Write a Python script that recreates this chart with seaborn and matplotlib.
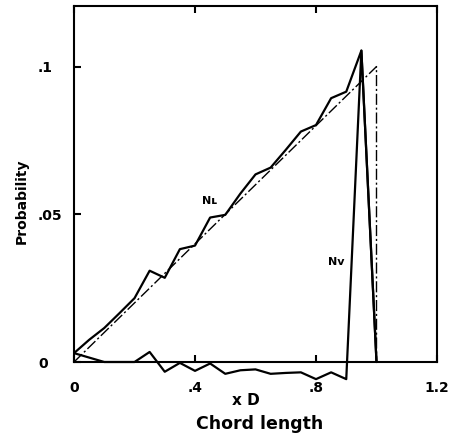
import matplotlib
matplotlib.use('Agg')
import matplotlib.pyplot as plt
import pandas as pd
import seaborn as sns

chord = [0.00, 0.05, 0.10, 0.15, 0.20, 0.25, 0.30, 0.35, 0.40, 0.45, 0.50,
         0.55, 0.60, 0.65, 0.70, 0.75, 0.80, 0.85, 0.90, 0.95, 1.00]
n_l = [0.0030, 0.0075, 0.0115, 0.0165, 0.0216, 0.0309, 0.0285, 0.0382, 0.0394, 0.0489, 0.0498,
       0.0570, 0.0635, 0.0658, 0.0718, 0.0780, 0.0802, 0.0893, 0.0915, 0.1054, 0.0]
n_v = [0.0030, 0.0015, 0.0, 0.0, 0.0, 0.0034, -0.0033, -0.0003, -0.0030, -0.0005, -0.0040,
       -0.0028, -0.0025, -0.0040, -0.0037, -0.0035, -0.0058, -0.0035, -0.0058, 0.1054, 0.0]
theory_x = [0.0, 1.0, 1.0]
theory_y = [0.0, 0.1, 0.0]
x_ticks = [0, 0.4, 0.8, 1.2]
x_tick_labels = ['0', '.4', '.8', '1.2']
y_ticks = [0, 0.05, 0.1]
y_tick_labels = ['0', '.05', '.1']

sns.set_theme(style='ticks', rc={
    'xtick.bottom': True, 'xtick.top': True,
    'ytick.left': True, 'ytick.right': False,
    'xtick.direction': 'in', 'ytick.direction': 'in',
    'xtick.color': 'black', 'ytick.color': 'black',
    'text.color': 'black', 'axes.labelcolor': 'black',
})
plt.rcParams['font.family'] = ['DejaVu Sans']
plt.rcParams['font.weight'] = 'bold'

fig = plt.figure(figsize=(4.64, 4.38), dpi=100)
ax = fig.add_axes([0.1595, 0.1263, 0.7823, 0.860])

df = pd.DataFrame({'chord': chord, 'NL': n_l, 'NV': n_v})
theory = pd.DataFrame({'x': theory_x, 'y': theory_y})
sns.lineplot(data=df, x='chord', y='NL', ax=ax, color='black', lw=1.6,
             estimator=None, sort=False)
sns.lineplot(data=df, x='chord', y='NV', ax=ax, color='black', lw=1.6,
             estimator=None, sort=False)
sns.lineplot(data=theory, x='x', y='y', ax=ax, color='black', lw=1.0,
             linestyle=(0, (8, 2, 1.5, 2)), estimator=None, sort=False)

ax.set_xlim(0, 1.2)
ax.set_ylim(-0.007, 0.1205)

for s in ax.spines.values():
    s.set_color('black')
    s.set_linewidth(1.5)
    s.set_visible(True)
ax.spines['bottom'].set_position(('data', 0))
ax.spines['left'].set_bounds(0, 0.1205)
ax.spines['right'].set_bounds(0, 0.1205)

ax.set_xticks(x_ticks)
ax.set_xticklabels(x_tick_labels, fontsize=10, fontweight='bold', color='black')
ax.set_yticks(y_ticks)
ax.set_yticklabels(y_tick_labels, fontsize=10, fontweight='bold', color='black')
for lab in ax.get_yticklabels():
    lab.set_horizontalalignment('left')

ax.xaxis.set_tick_params(which='major', direction='in', length=5, width=1.5,
                         color='black', top=True, bottom=True, pad=14)
ax.yaxis.set_tick_params(which='major', direction='in', length=5, width=1.5,
                         color='black', left=True, right=False, pad=26)
for t in ax.xaxis.get_major_ticks() + ax.yaxis.get_major_ticks():
    t.tick1line.set_zorder(5)
    t.tick2line.set_zorder(5)

ax.set_ylabel('Probability', fontsize=10, fontweight='bold', color='black')
ax.yaxis.set_label_coords(-0.125, 0.482)
ax.set_xlabel('Chord length', fontsize=12.5, fontweight='bold', color='black')
ax.xaxis.label.set_va('center')
ax.xaxis.set_label_coords(0.51, -0.11)
ax.text(0.474, -0.046, 'x D', transform=ax.transAxes, ha='center', va='center',
        fontsize=11, fontweight='bold', color='black')

ax.text(0.447, 0.0545, 'Nʟ', ha='center', va='center', fontsize=8, fontweight='bold',
        color='black')
ax.text(0.867, 0.034, 'Nv', ha='center', va='center', fontsize=8, fontweight='bold',
        color='black')

fig.savefig('out.png', dpi=100)
